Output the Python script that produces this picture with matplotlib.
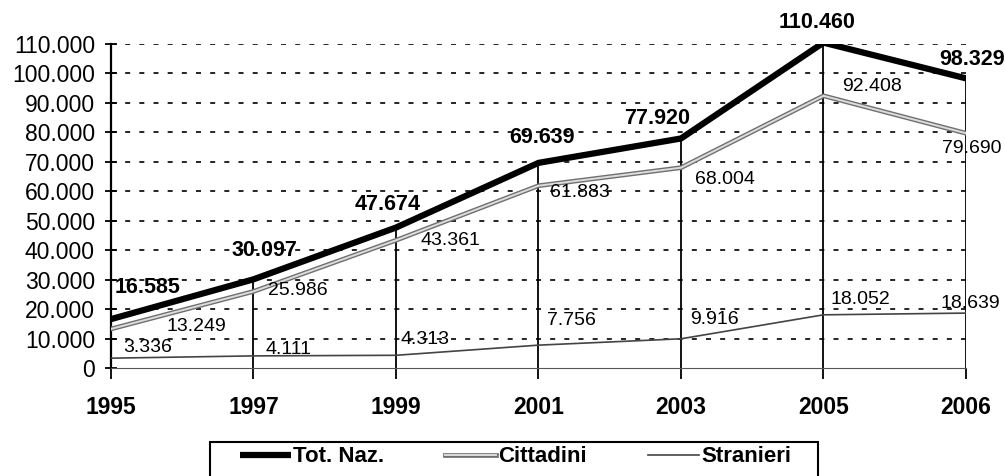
import matplotlib

matplotlib.use("Agg")
import matplotlib.pyplot as plt  # noqa: E402
import matplotlib.patheffects as pe  # noqa: E402
from matplotlib.patches import Rectangle  # noqa: E402
from matplotlib.ticker import FuncFormatter  # noqa: E402

plt.rcParams["font.family"] = ["Liberation Sans", "DejaVu Sans"]

years = ["1995", "1997", "1999", "2001", "2003", "2005", "2006"]
tot_naz = [16585, 30097, 47674, 69639, 77920, 110460, 98329]
cittadini = [13249, 25986, 43361, 61883, 68004, 92408, 79690]
stranieri = [3336, 4111, 4313, 7756, 9916, 18052, 18639]

# label offsets in pixels (dx, dy) relative to each point, and alignment
tot_off = [(4, 32, "left"), (11, 29, "center"), (-8, 23, "center"), (4, 25, "center"),
           (-24, 20, "center"), (-6, 20, "center"), (6, 19, "center")]
cit_off = [(56, 2, "left"), (15, 1, "left"), (25, 0, "left"), (12, -7, "left"),
           (14, -12, "left"), (19, 9, "left"), (6, -15, "center")]
str_off = [(37, 11, "center"), (35, 6, "center"), (29, 16, "center"), (33, 25, "center"),
           (33, 19, "center"), (37, 15, "center"), (4, 10, "center")]


def fmt(v):
    return f"{int(v):,}".replace(",", ".")


fig = plt.figure(figsize=(10.05, 4.76), dpi=100)
ax = fig.add_axes([0.1104, 0.2269, 0.8508, 0.6807])
x = list(range(len(years)))

ax.set_ylim(0, 110000)
ax.set_xlim(0, len(years) - 1)
ax.set_yticks(range(0, 110001, 10000))
ax.yaxis.set_major_formatter(FuncFormatter(lambda v, p: fmt(v)))
ax.set_xticks(x)
ax.set_xticklabels(years, fontweight="bold", fontsize=16.5)
ax.tick_params(axis="y", labelsize=16.5, direction="inout", length=9, width=1.3, pad=7)
ax.tick_params(axis="x", direction="out", length=8, width=1.3, pad=12)

for v in range(10000, 110001, 10000):
    ax.axhline(v, color="black", lw=1.2, ls=(0, (3.0, 5.5)), zorder=1)

for s in ("top", "right"):
    ax.spines[s].set_visible(False)
ax.spines["left"].set_linewidth(1.6)
ax.spines["bottom"].set_linewidth(0.8)
ax.spines["bottom"].set_color("#555555")

ax.vlines(x, 0, tot_naz, color="black", lw=1.3, zorder=2)

ax.plot(x, stranieri, color="#444444", lw=1.2, label="Stranieri", zorder=3)
ax.plot(x, cittadini, color="#dcdcdc", lw=1.4, label="Cittadini", zorder=4,
        path_effects=[pe.Stroke(linewidth=3.4, foreground="#707070"), pe.Normal()])
ax.plot(x, tot_naz, color="black", lw=4.5, label="Tot. Naz.", zorder=5,
        solid_capstyle="butt")

for xi, v, (dx, dy, ha) in zip(x, tot_naz, tot_off):
    ax.annotate(fmt(v), (xi, v), xytext=(dx, dy), textcoords="offset pixels",
                ha=ha, va="center", fontsize=15.5, fontweight="bold", zorder=6,
                annotation_clip=False)
for xi, v, (dx, dy, ha) in zip(x, cittadini, cit_off):
    ax.annotate(fmt(v), (xi, v), xytext=(dx, dy), textcoords="offset pixels",
                ha=ha, va="center", fontsize=14, zorder=6, annotation_clip=False)
for xi, v, (dx, dy, ha) in zip(x, stranieri, str_off):
    ax.annotate(fmt(v), (xi, v), xytext=(dx, dy), textcoords="offset pixels",
                ha=ha, va="center", fontsize=14, zorder=6, annotation_clip=False)

h, l = ax.get_legend_handles_labels()
order = [2, 1, 0]
fig.legend([h[i] for i in order], [l[i] for i in order], loc="upper center",
           bbox_to_anchor=(0.513, 0.0714), ncol=3, frameon=False,
           prop={"weight": "bold", "size": 16}, borderaxespad=0,
           handlelength=2.3, handletextpad=0.1, columnspacing=2.75,
           borderpad=0.2)
fig.patches.append(Rectangle((210 / 1005, -0.05), 608 / 1005, 0.05 + 34 / 476,
                             transform=fig.transFigure, fill=False,
                             edgecolor="black", lw=1.5))

fig.savefig("out.png", dpi=100)
